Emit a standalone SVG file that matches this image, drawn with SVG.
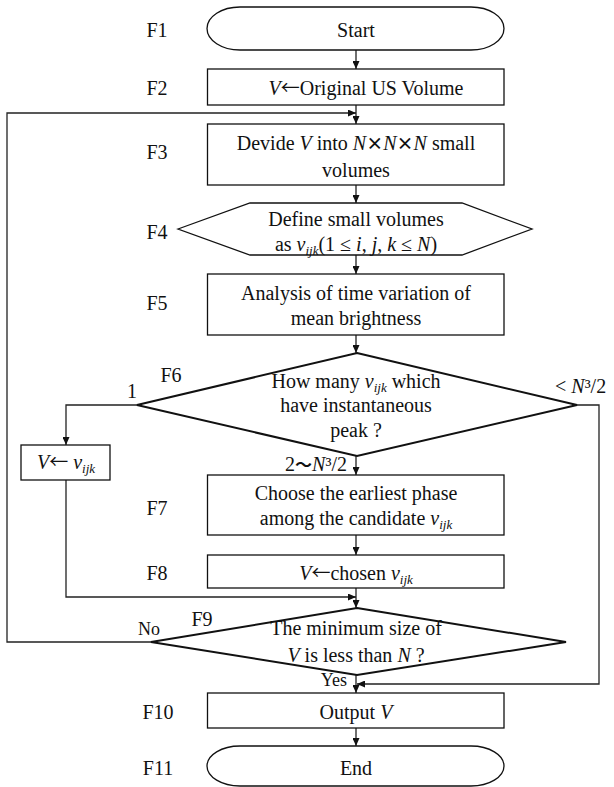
<svg xmlns="http://www.w3.org/2000/svg" width="614" height="787" viewBox="0 0 614 787">
<style>
text{font-family:"Liberation Serif","Times New Roman",serif;font-size:20px;fill:#111}
.c{text-anchor:middle}
.i{font-style:italic}
.s{font-size:13px;font-style:italic}
.x{font-family:"Noto Sans CJK JP","DejaVu Sans",sans-serif;font-size:17px;font-weight:bold}
.a{font-family:"Noto Sans CJK JP","DejaVu Sans",sans-serif;font-size:19px}
.sh{fill:#fff;stroke:#111;stroke-width:1.3}
.dm{fill:#fff;stroke:#111;stroke-width:2}
.ln{fill:none;stroke:#222;stroke-width:1.3}
.lab{font-size:18px}
</style>
<defs>
<marker id="ah" markerWidth="8" markerHeight="7" refX="8" refY="3.5" orient="auto" markerUnits="userSpaceOnUse">
<path d="M0,0 L8,3.5 L0,7 Z" fill="#111"/>
</marker>
</defs>
<rect width="614" height="787" fill="#fff"/>
<g id="connectors">
<line class="ln" x1="356" y1="50" x2="356" y2="69" marker-end="url(#ah)"/>
<line class="ln" x1="356" y1="105" x2="356" y2="124" marker-end="url(#ah)"/>
<polyline class="ln" points="151,642 7,642 7,113 356,113" marker-end="url(#ah)"/>
<line class="ln" x1="356" y1="185" x2="356" y2="203" marker-end="url(#ah)"/>
<line class="ln" x1="356" y1="255" x2="356" y2="274" marker-end="url(#ah)"/>
<line class="ln" x1="356" y1="335" x2="356" y2="353" marker-end="url(#ah)"/>
<polyline class="ln" points="137,405 66,405 66,445" marker-end="url(#ah)"/>
<line class="ln" x1="356" y1="456" x2="356" y2="475" marker-end="url(#ah)"/>
<polyline class="ln" points="577,405 599,405 599,684 357,684" marker-end="url(#ah)"/>
<line class="ln" x1="356" y1="535" x2="356" y2="555" marker-end="url(#ah)"/>
<polyline class="ln" points="66,480 66,597 356,597" marker-end="url(#ah)"/>
<line class="ln" x1="356" y1="588" x2="356" y2="608" marker-end="url(#ah)"/>
<line class="ln" x1="356" y1="675" x2="356" y2="693" marker-end="url(#ah)"/>
<line class="ln" x1="356" y1="728" x2="356" y2="746" marker-end="url(#ah)"/>
<text x="132" y="398" class="c">1</text>
<text x="555" y="393">&lt; <tspan class="i">N</tspan>³/2</text>
<text x="347" y="471" text-anchor="end">2<tspan class="x">〜</tspan><tspan class="i">N</tspan>³/2</text>
<text x="149" y="635" class="c lab">No</text>
<text x="347" y="686" text-anchor="end" class="lab">Yes</text>
</g>
<g id="F1">
<text x="157" y="37" class="c">F1</text>
<path class="sh" d="M240,7 H471 A33,21.5 0 0 1 471,50 H240 A33,21.5 0 0 1 240,7 Z"/>
<text x="356" y="37" class="c">Start</text>
</g>
<g id="F2">
<text x="157" y="95" class="c">F2</text>
<rect class="sh" x="207.5" y="69" width="296.5" height="36"/>
<text x="366" y="95" class="c"><tspan class="i">V</tspan><tspan class="a">←</tspan>Original US Volume</text>
</g>
<g id="F3">
<text x="157" y="159" class="c">F3</text>
<rect class="sh" x="207.5" y="124" width="296.5" height="61"/>
<text x="356" y="150" class="c">Devide <tspan class="i">V</tspan> into <tspan class="i">N</tspan><tspan class="x">×</tspan><tspan class="i">N</tspan><tspan class="x">×</tspan><tspan class="i">N</tspan> small</text>
<text x="356" y="177" class="c">volumes</text>
</g>
<g id="F4">
<text x="157" y="239" class="c">F4</text>
<polygon class="sh" points="178,229 250,203 462,203 532,229 462,255 250,255"/>
<text x="356" y="226" class="c">Define small volumes</text>
<text x="356" y="251" class="c">as <tspan class="i">v</tspan><tspan class="s" dy="4">ijk</tspan><tspan dy="-4">(1 ≤ </tspan><tspan class="i">i</tspan>, <tspan class="i">j</tspan>, <tspan class="i">k</tspan> ≤ <tspan class="i">N</tspan>)</text>
</g>
<g id="F5">
<text x="157" y="310" class="c">F5</text>
<rect class="sh" x="207.5" y="274" width="296.5" height="61"/>
<text x="356" y="300" class="c">Analysis of time variation of</text>
<text x="356" y="325" class="c">mean brightness</text>
</g>
<g id="F6">
<text x="171" y="382" class="c">F6</text>
<polygon class="dm" points="357,353 577,405 357,456 137,405"/>
<text x="356" y="388" class="c">How many <tspan class="i">v</tspan><tspan class="s" dy="4">ijk</tspan><tspan dy="-4"> which</tspan></text>
<text x="356" y="412" class="c">have instantaneous</text>
<text x="356" y="437" class="c">peak ?</text>
</g>
<g id="Fleft">
<rect class="sh" x="21" y="445" width="89" height="35"/>
<text x="66" y="469" class="c"><tspan class="i">V</tspan><tspan class="a">←</tspan> <tspan class="i">v</tspan><tspan class="s" dy="4">ijk</tspan></text>
</g>
<g id="F7">
<text x="157" y="515" class="c">F7</text>
<rect class="sh" x="207.5" y="475" width="296.5" height="60"/>
<text x="356" y="500" class="c">Choose the earliest phase</text>
<text x="356" y="525" class="c">among the candidate <tspan class="i">v</tspan><tspan class="s" dy="4">ijk</tspan></text>
</g>
<g id="F8">
<text x="157" y="580" class="c">F8</text>
<rect class="sh" x="207.5" y="555" width="296.5" height="33"/>
<text x="356" y="580" class="c"><tspan class="i">V</tspan><tspan class="a">←</tspan>chosen <tspan class="i">v</tspan><tspan class="s" dy="4">ijk</tspan></text>
</g>
<g id="F9">
<text x="202" y="626" class="c">F9</text>
<polygon class="dm" points="357,608 566,642 357,675 151,642"/>
<text x="356" y="635" class="c">The minimum size of</text>
<text x="356" y="662" class="c"><tspan class="i">V</tspan> is less than <tspan class="i">N</tspan> ?</text>
</g>
<g id="F10">
<text x="158" y="719" class="c">F10</text>
<rect class="sh" x="207.5" y="693" width="296.5" height="35"/>
<text x="356" y="719" class="c">Output <tspan class="i">V</tspan></text>
</g>
<g id="F11">
<text x="158" y="775" class="c">F11</text>
<path class="sh" d="M240,746 H471 A33,20 0 0 1 471,786 H240 A33,20 0 0 1 240,746 Z"/>
<text x="356" y="775" class="c">End</text>
</g>
</svg>
